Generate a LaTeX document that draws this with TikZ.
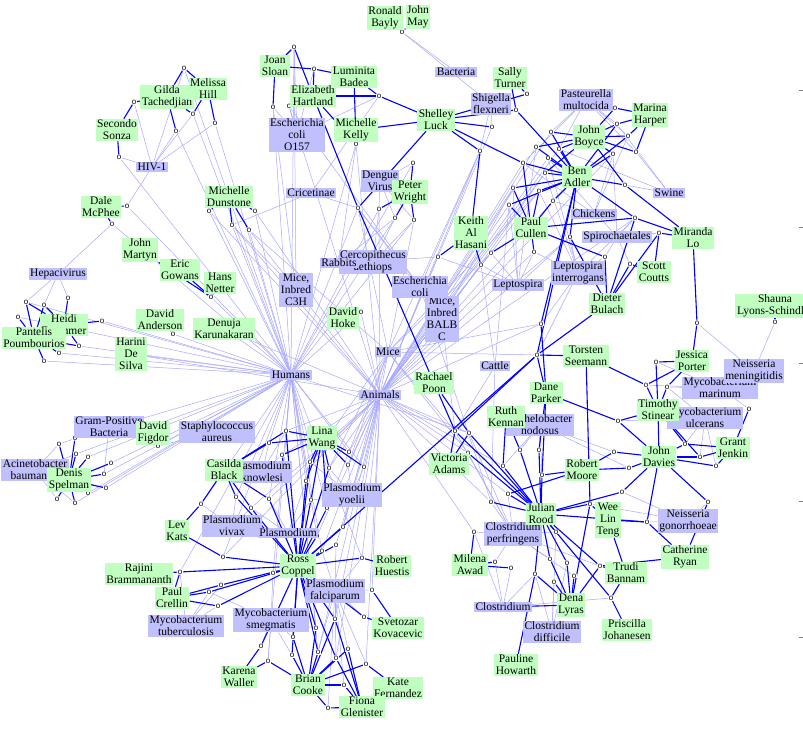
\documentclass[tikz,border=0pt]{standalone}
\usepackage{fontspec}
\setmainfont{Liberation Serif}
\newfontfamily\pubsans{Liberation Sans}
\usetikzlibrary{backgrounds}
\definecolor{persgreen}{RGB}{192,255,192}
\definecolor{concblue}{RGB}{192,192,255}
\definecolor{linklight}{RGB}{168,168,255}
\definecolor{linkdark}{RGB}{0,0,255}

\begin{document}
\begin{tikzpicture}[x=1pt, y=-1pt,
  pers/.style={fill=persgreen, inner xsep=1.5pt, inner ysep=1pt, align=center,
    font=\fontsize{11.5}{12}\selectfont},
  conc/.style={pers, fill=concblue},
  pub/.style={fill=white, inner sep=0.3pt, font=\pubsans\fontsize{8}{8}\selectfont},
  auth/.style={linkdark, line width=1.1pt},
  topic/.style={linklight, line width=0.5pt}]
\useasboundingbox (0,0) rectangle (803,731);

% publications
\foreach \n/\x/\y in {p1/184/68, p2/134/102, p3/193/114, p4/176/131, p5/215/123, p6/119/157,
  p7/127/206, p8/112/224, p9/209/211, p10/232/225, p11/249/230, p12/255/211,
  p13/402/32, p14/294/47, p15/314/69, p16/273/107, p17/289/106, p18/379/96, p19/356/144,
  p20/413/163, p21/358/208, p22/379/209, p23/395/218, p24/414/220,
  p25/492/127, p26/480/151, p27/523/163, p28/516/110, p29/527/94, p30/513/188, p31/509/205,
  p32/551/132, p33/536/147, p34/559/149, p35/548/158, p36/545/173, p37/539/191, p38/553/201,
  p39/615/108, p40/617/124, p41/628/136, p42/636/152, p43/613/154, p44/625/185, p45/635/218,
  p46/659/233, p47/570/237, p48/491/253, p49/481/265, p50/534/252, p51/605/257, p52/630/264,
  p53/438/257, p54/68/298, p55/26/302, p56/44/305, p57/18/317, p58/102/321, p59/79/346,
  p60/59/353, p61/44/361, p62/173/334, p63/211/297, p64/361/312,
  p65/541/324, p66/537/355, p67/697/323, p68/775/322, p69/656/362, p70/646/385, p71/667/387,
  p72/618/421, p73/749/409, p74/685/444, p75/700/457, p76/716/466, p77/614/452, p78/629/468,
  p79/539/450, p80/542/475, p81/622/492,
  p82/158/446, p83/59/444, p84/75/438, p85/76/454, p86/88/457, p87/111/463, p88/104/474,
  p89/106/488, p90/88/493, p91/57/499, p92/75/503,
  p93/286/431, p94/269/443, p95/282/455, p96/310/462, p97/306/481, p98/329/468, p99/349/452,
  p100/348/465, p101/364/467, p102/311/500, p103/327/508, p104/236/497, p105/251/508,
  p106/269/499, p107/201/504, p108/343/527, p109/317/536, p110/322/551, p111/336/545,
  p112/223/557, p113/273/573, p114/221/585, p115/209/592, p116/218/606, p117/180/572,
  p118/362/558, p119/372/590, p120/364/617, p121/335/619, p122/316/628, p123/293/637,
  p124/261/646, p125/268/661, p126/292/655, p127/318/652, p128/336/658, p129/348/649,
  p130/366/664, p131/344/685, p132/328/708,
  p133/455/431, p134/469/433, p135/468/453, p136/503/466, p137/520/450, p138/508/494,
  p139/491/502, p140/590/504, p141/647/522, p142/708/502, p143/556/532, p144/474/532,
  p145/495/562, p146/511/568, p147/535/574, p148/550/559, p149/567/563, p150/554/582,
  p151/574/576, p152/600/566, p153/611/598}
  \node[pub] (\n) at (\x,\y) {o};

% subjects
\node[conc] (bact) at (456,72) {Bacteria};
\node[conc] (shig) at (491,104) {Shigella\\flexneri};
\node[conc] (past) at (586,100) {Pasteurella\\multocida};
\node[conc] (eco157) at (297,135) {Escherichia\\coli\\O157};
\node[conc] (hiv) at (152,167) {HIV-1};
\node[conc] (deng) at (380,181) {Dengue\\Virus};
\node[conc] (cric) at (311,193) {Cricetinae};
\node[conc] (swin) at (669,193) {Swine};
\node[conc] (chic) at (594,214) {Chickens};
\node[conc] (spir) at (617,237) {Spirochaetales};
\node[conc] (cerc) at (373,262) {Cercopithecus\\aethiops};
\node[conc] (rabb) at (339,263) {Rabbits};
\node[conc] (hepa) at (58,274) {Hepacivirus};
\node[conc] (mc3h) at (296,290) {Mice,\\Inbred\\C3H};
\node[conc] (mbalb) at (442,319) {Mice,\\Inbred\\BALB\\C};
\node[conc] (ecol) at (420,287) {Escherichia\\coli};
\node[conc] (lint) at (578,273) {Leptospira\\interrogans};
\node[conc] (lept) at (518,285) {Leptospira};
\node[conc] (mice) at (388,352) {Mice};
\node[conc] (huma) at (291,375) {Humans};
\node[conc] (catt) at (495,366) {Cattle};
\node[conc] (anim) at (380,395) {Animals};
\node[conc] (mmar) at (720,388) {Mycobacterium\\marinum};
\node[conc] (nmen) at (754,371) {Neisseria\\meningitidis};
\node[conc] (mulc) at (705,418) {Mycobacterium\\ulcerans};
\node[conc] (gpos) at (109,427) {Gram-Positive\\Bacteria};
\node[conc] (saur) at (217,432) {Staphylococcus\\aureus};
\node[conc] (dnod) at (540,425) {Dichelobacter\\nodosus};
\node[conc] (abau) at (35,470) {Acinetobacter\\baumannii};
\node[conc] (pkno) at (262,472) {Plasmodium\\knowlesi};
\node[conc] (pyoe) at (352,495) {Plasmodium\\yoelii};
\node[conc] (pviv) at (232,526) {Plasmodium\\vivax};
\node[conc] (plas) at (288,533) {Plasmodium};
\node[conc] (ngon) at (688,521) {Neisseria\\gonorrhoeae};
\node[conc] (cper) at (513,534) {Clostridium\\perfringens};
\node[conc] (pfal) at (335,591) {Plasmodium\\falciparum};
\node[conc] (msme) at (271,620) {Mycobacterium\\smegmatis};
\node[conc] (mtub) at (186,626) {Mycobacterium\\tuberculosis};
\node[conc] (clos) at (503,607) {Clostridium};
\node[conc] (cdif) at (552,632) {Clostridium\\difficile};

% authors
\node[pers] (rbay) at (385,18) {Ronald\\Bayly};
\node[pers] (jmay) at (418,17) {John\\May};
\node[pers] (jslo) at (275,66) {Joan\\Sloan};
\node[pers] (ehar) at (313,96) {Elizabeth\\Hartland};
\node[pers] (lbad) at (354,77) {Luminita\\Badea};
\node[pers] (gtac) at (167,97) {Gilda\\Tachedjian};
\node[pers] (mhil) at (208,89) {Melissa\\Hill};
\node[pers] (ssonz) at (117,130) {Secondo\\Sonza};
\node[pers] (mkel) at (356,130) {Michelle\\Kelly};
\node[pers] (sluc) at (436,120) {Shelley\\Luck};
\node[pers] (stur) at (510,78) {Sally\\Turner};
\node[pers] (mhar) at (650,115) {Marina\\Harper};
\node[pers] (jboy) at (589,137) {John\\Boyce};
\node[pers] (badl) at (577,177) {Ben\\Adler};
\node[pers] (mdun) at (229,197) {Michelle\\Dunstone};
\node[pers] (dmcp) at (101,207) {Dale\\McPhee};
\node[pers] (pwri) at (410,192) {Peter\\Wright};
\node[pers] (kalh) at (471,233) {Keith\\Al\\Hasani};
\node[pers] (pcul) at (531,228) {Paul\\Cullen};
\node[pers] (mlo) at (693,238) {Miranda\\Lo};
\node[pers] (scou) at (654,272) {Scott\\Coutts};
\node[pers] (jmar) at (140,250) {John\\Martyn};
\node[pers] (egow) at (180,270) {Eric\\Gowans};
\node[pers] (hnet) at (220,283) {Hans\\Netter};
\node[pers] (dbul) at (607,304) {Dieter\\Bulach};
\node[pers] (slyo) at (775,306) {Shauna\\Lyons-Schindler};
\node[pers] (dand) at (160,320) {David\\Anderson};
\node[pers] (dkar) at (224,329) {Denuja\\Karunakaran};
\node[pers] (hdru) at (64,325) {Heidi\\Drummer};
\node[pers] (ppou) at (34,338) {Pantelis\\Poumbourios};
\node[pers] (hdes) at (131,354) {Harini\\De\\Silva};
\node[pers] (dhok) at (343,318) {David\\Hoke};
\node[pers] (tsee) at (586,356) {Torsten\\Seemann};
\node[pers] (jpor) at (692,361) {Jessica\\Porter};
\node[pers] (rpoo) at (434,383) {Rachael\\Poon};
\node[pers] (dpar) at (546,393) {Dane\\Parker};
\node[pers] (tsti) at (658,410) {Timothy\\Stinear};
\node[pers] (rken) at (506,417) {Ruth\\Kennan};
\node[pers] (dfig) at (153,433) {David\\Figdor};
\node[pers] (lwan) at (322,438) {Lina\\Wang};
\node[pers] (vada) at (449,464) {Victoria\\Adams};
\node[pers] (cbla) at (224,470) {Casilda\\Black};
\node[pers] (dspe) at (69,480) {Denis\\Spelman};
\node[pers] (jdav) at (659,457) {John\\Davies};
\node[pers] (rmoo) at (582,470) {Robert\\Moore};
\node[pers] (gjen) at (733,448) {Grant\\Jenkin};
\node[pers] (jroo) at (541,514) {Julian\\Rood};
\node[pers] (wlte) at (608,520) {Wee\\Lin\\Teng};
\node[pers] (lkat) at (177,531) {Lev\\Kats};
\node[pers] (rcop) at (298,566) {Ross\\Coppel};
\node[pers] (rhue) at (392,566) {Robert\\Huestis};
\node[pers] (mawa) at (470,565) {Milena\\Awad};
\node[pers] (crya) at (685,557) {Catherine\\Ryan};
\node[pers] (rbra) at (139,574) {Rajini\\Brammananth};
\node[pers] (pcre) at (172,598) {Paul\\Crellin};
\node[pers] (tban) at (626,573) {Trudi\\Bannam};
\node[pers] (skov) at (398,628) {Svetozar\\Kovacevic};
\node[pers] (pjoh) at (627,630) {Priscilla\\Johanesen};
\node[pers] (dlyr) at (571,605) {Dena\\Lyras};
\node[pers] (phow) at (516,665) {Pauline\\Howarth};
\node[pers] (kwal) at (239,677) {Karena\\Waller};
\node[pers] (bcoo) at (308,685) {Brian\\Cooke};
\node[pers] (kfer) at (398,688) {Kate\\Fernandez};
\node[pers] (fgle) at (362,707) {Fiona\\Glenister};

% axis ticks on the right border
\foreach \ty in {90,227,363,501,637}
  \draw[gray] (799,\ty) -- (803,\ty);

\begin{scope}[on background layer]
% publication -- subject
\foreach \a/\b in {p1/hiv, p1/huma, p2/hiv, p3/hiv, p3/huma, p4/hiv, p4/huma, p5/hiv, p5/huma,
  p6/hiv, p6/huma, p7/hiv, p7/huma, p8/hepa, p8/huma, p9/huma, p9/anim, p10/huma, p10/anim,
  p10/mc3h, p10/cric, p11/huma, p11/anim, p11/mice, p12/huma, p12/anim, p13/bact, p13/shig,
  p14/eco157, p14/huma, p14/mc3h, p15/eco157, p16/eco157, p16/huma, p16/mc3h, p17/eco157,
  p17/anim, p17/ecol, p18/eco157, p18/cric, p19/anim, p19/huma, p19/rabb, p20/deng, p20/huma,
  p21/ecol, p21/mice, p21/mbalb, p21/cric, p21/huma, p22/deng, p22/huma, p22/cerc, p22/anim,
  p23/deng, p23/cerc, p23/huma, p23/rabb, p24/deng, p24/huma, p24/cerc, p24/anim, p25/shig,
  p25/anim, p26/shig, p26/mice, p26/ecol, p26/anim, p27/past, p27/chic, p27/anim, p28/shig,
  p29/shig, p30/lept, p30/mbalb, p30/anim, p31/lept, p31/catt, p31/anim, p32/past, p32/anim,
  p33/lept, p33/anim, p34/past, p34/swin, p34/anim, p35/spir, p35/lint, p35/anim, p36/lint,
  p36/anim, p36/mbalb, p37/lint, p37/mice, p37/anim, p38/chic, p38/anim, p39/past, p40/past,
  p40/swin, p41/past, p41/chic, p42/past, p42/swin, p43/chic, p43/spir, p43/anim, p44/swin,
  p45/lint, p45/spir, p45/anim, p46/spir, p47/lint, p47/lept, p47/anim, p48/lept, p48/mice,
  p48/anim, p49/lept, p49/anim, p49/catt, p50/lint, p50/lept, p50/anim, p51/lint, p51/spir,
  p52/spir, p53/lept, p53/anim, p53/rabb, p54/hepa, p55/hepa, p55/huma, p56/hepa, p57/huma,
  p58/huma, p59/huma, p60/huma, p61/huma, p62/huma, p63/huma, p64/huma, p64/anim, p65/lint,
  p65/anim, p65/mice, p66/lint, p66/mice, p67/nmen, p68/nmen, p69/mmar, p70/mmar, p71/mmar,
  p71/mulc, p72/mulc, p73/mmar, p74/mulc, p75/mulc, p76/mulc, p77/dnod, p78/dnod, p79/dnod,
  p80/dnod, p81/ngon, p82/saur, p82/huma, p83/abau, p83/gpos, p84/gpos, p84/huma, p85/abau,
  p85/huma, p86/huma, p87/huma, p88/huma, p88/gpos, p89/abau, p89/huma, p90/abau, p90/huma,
  p91/abau, p92/abau, p92/huma, p93/pkno, p93/anim, p93/huma, p94/pkno, p94/huma, p95/pkno,
  p95/anim, p96/pyoe, p96/anim, p96/huma, p96/mice, p97/plas, p97/huma, p98/pyoe, p98/anim,
  p98/mice, p99/anim, p99/huma, p100/pyoe, p100/anim, p100/mice, p101/pyoe, p101/anim,
  p101/huma, p102/pyoe, p102/plas, p102/huma, p103/pyoe, p103/mice, p103/huma, p104/pviv,
  p104/huma, p105/pviv, p105/plas, p105/anim, p106/plas, p106/huma, p106/anim, p107/pviv,
  p107/huma, p108/pyoe, p108/anim, p108/mice, p109/plas, p109/anim, p109/huma, p110/pfal,
  p110/anim, p110/huma, p111/pfal, p111/anim, p112/huma, p112/anim, p113/msme, p113/huma,
  p114/mtub, p115/mtub, p115/msme, p116/mtub, p117/mtub, p117/huma, p118/pfal, p118/anim,
  p118/huma, p119/pfal, p119/anim, p120/pfal, p121/pfal, p121/anim, p122/msme, p122/huma,
  p123/msme, p124/msme, p125/msme, p125/huma, p126/msme, p127/pfal, p127/anim, p127/huma,
  p128/pfal, p128/anim, p129/pfal, p130/pfal, p130/anim, p131/pfal, p132/pfal, p133/cper,
  p133/anim, p133/mice, p133/catt, p133/mbalb, p134/cper, p134/anim, p134/huma, p135/cper,
  p135/mice, p135/anim, p136/dnod, p136/anim, p137/dnod, p138/cper, p138/anim, p139/cper,
  p139/anim, p139/catt, p139/ecol, p140/ngon, p141/ngon, p142/ngon, p143/cper, p143/cdif,
  p144/cper, p144/clos, p144/anim, p145/cper, p145/clos, p146/clos, p147/cdif, p147/clos,
  p148/cper, p149/cdif, p150/cdif, p151/cper, p152/cper, p153/clos,
  hdes/huma, hdes/anim, dkar/huma, dkar/anim}
  \draw[topic] (\a) -- (\b);
% author -- publication
\foreach \a/\b in {gtac/p1, mhil/p1, gtac/p2, gtac/p3, mhil/p3, gtac/p4, mhil/p5, ssonz/p2,
  ssonz/p6, dmcp/p7, dmcp/p8, mdun/p9, mdun/p10, mdun/p11, mdun/p12,
  rbay/p13, jmay/p13, jslo/p14, jslo/p15, jslo/p16, ehar/p14, ehar/p15, ehar/p17, ehar/p18,
  ehar/p19, ehar/p21, lbad/p15, lbad/p18, lbad/p19, mkel/p19, mkel/sluc, sluc/p18, sluc/p21,
  rpoo/p21, sluc/p25, sluc/p26, sluc/p27, sluc/p28, sluc/p29, stur/p28, stur/p29, pwri/p20,
  pwri/p22, pwri/p23, pwri/p24, kalh/p26, kalh/p53, kalh/p48, kalh/p49,
  badl/p27, badl/p28, badl/p30, badl/p31, badl/p32, badl/p33, badl/p34, badl/p35, badl/p36,
  badl/p37, badl/p38, badl/p40, badl/p41, badl/p43, badl/p44, badl/p45, badl/p47, badl/p65,
  badl/p66, jboy/p32, jboy/p33, jboy/p34, jboy/p36, jboy/p39, jboy/p40, jboy/p41, jboy/p42,
  jboy/p43, jboy/p44, mhar/p39, mhar/p40, mhar/p41, mhar/p42, pcul/p27, pcul/p30, pcul/p31,
  pcul/p37, pcul/p38, pcul/p45, pcul/p48, pcul/p50, pcul/p51, mlo/p44, mlo/p45, mlo/p46,
  mlo/p67, scou/p46, scou/p52, dbul/p45, dbul/p46, dbul/p47, dbul/p51, dbul/p52, dbul/p66,
  hdru/p54, hdru/p55, hdru/p56, hdru/p58, hdru/p59, ppou/p55, ppou/p56, ppou/p57, ppou/p59,
  ppou/p60, ppou/p61, dand/p62, egow/p63, hnet/p63, jmar/p63, dhok/p64,
  jpor/p67, slyo/p68, jpor/p69, jpor/p70, jpor/p71, tsti/p69, tsti/p70, tsti/p71, tsti/p72,
  tsti/p74, tsti/p75, tsti/jdav, tsee/p70, tsee/p66, tsee/p140, dpar/p65, dpar/p66, dpar/p72,
  dpar/p79, dpar/p80, jdav/p72, jdav/p74, jdav/p75, jdav/p76, jdav/p77, jdav/p78, jdav/p81,
  jdav/p141, jdav/p142, gjen/p73, gjen/p74, gjen/p75, gjen/p76, rmoo/p77, rmoo/p78, rmoo/p80,
  rmoo/p138, dfig/p82, dspe/p83, dspe/p84, dspe/p85, dspe/p86, dspe/p87, dspe/p88, dspe/p89,
  dspe/p90, dspe/p91, dspe/p92,
  lwan/p93, lwan/p94, lwan/p95, lwan/p96, lwan/p97, lwan/p98, lwan/p99, lwan/p100, lwan/p101,
  lwan/p102, lwan/p103, cbla/p93, cbla/p94, cbla/p104, cbla/p105, cbla/p106, cbla/p107,
  lkat/p107, lkat/p112, rcop/p93, rcop/p95, rcop/p96, rcop/p97, rcop/p98, rcop/p102,
  rcop/p103, rcop/p104, rcop/p105, rcop/p106, rcop/p108, rcop/p109, rcop/p110, rcop/p111,
  rcop/p112, rcop/p113, rcop/p114, rcop/p115, rcop/p116, rcop/p117, rcop/p118, rcop/p120,
  rcop/p121, rcop/p122, rcop/p123, rcop/p124, rcop/p126, rcop/p127, rcop/p128, rcop/p66,
  rbra/p117, pcre/p117, pcre/p114, pcre/p115, pcre/p116, rhue/p118, skov/p119, skov/p120,
  kwal/p124, kwal/p125, bcoo/p121, bcoo/p122, bcoo/p123, bcoo/p125, bcoo/p126, bcoo/p127,
  bcoo/p128, bcoo/p129, bcoo/p130, bcoo/p131, bcoo/p132, kfer/p130, fgle/p121, fgle/p128,
  fgle/p129, fgle/p131, fgle/p132,
  vada/p133, vada/p134, vada/p135, rpoo/p133, rpoo/p134, p133/p66, jroo/p133, jroo/p134,
  jroo/p135, jroo/p136, jroo/p137, jroo/p79, jroo/p80, jroo/p138, jroo/p139, jroo/p140,
  jroo/p81, jroo/p141, jroo/p143, jroo/p147, jroo/p148, jroo/p149, jroo/p152, jroo/p153,
  rken/p136, rken/p137, wlte/p140, wlte/p141, wlte/tban, crya/p141, crya/p142, crya/p152,
  tban/p152, tban/p153, pjoh/p153, dlyr/p140, dlyr/p147, dlyr/p148, dlyr/p149, dlyr/p150,
  dlyr/p151, dlyr/p152, dlyr/clos, mawa/p144, mawa/p145, mawa/p146, phow/p147}
  \draw[auth] (\a) -- (\b);
\end{scope}
\end{tikzpicture}
\end{document}
